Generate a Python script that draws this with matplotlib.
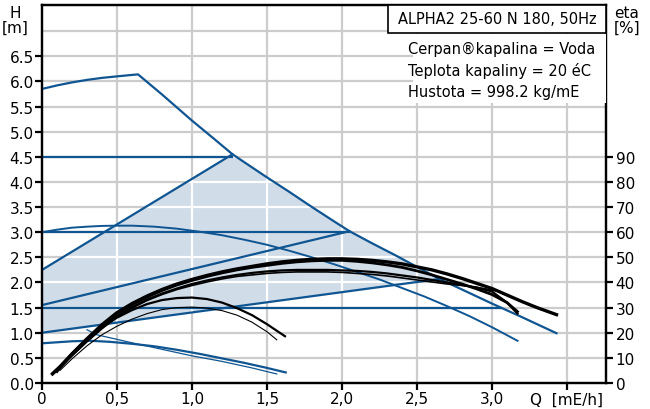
import numpy as np
import matplotlib
matplotlib.use("Agg")
import matplotlib.pyplot as plt
from matplotlib.patches import Polygon, Rectangle

BLUE = "#0f5592"
FILL = "#d0dce8"
GRID = "#cccccc"

# ------------------------------------------------
# DATA  (Q in m3/h, H in m, eta in %)
# ------------------------------------------------

# speed curve III (max)
q_max = [0.0, 0.1, 0.2, 0.3, 0.4, 0.5, 0.64, 0.8, 1.0, 1.15, 1.27, 1.4, 1.5, 1.65,
         1.8, 1.95, 2.05, 2.2, 2.35, 2.5, 2.65, 2.8, 3.0, 3.2, 3.43]
h_max = [5.85, 5.92, 5.98, 6.03, 6.07, 6.10, 6.14, 5.74, 5.22, 4.85, 4.55, 4.29, 4.09, 3.80,
         3.50, 3.21, 3.02, 2.78, 2.55, 2.31, 2.07, 1.86, 1.58, 1.31, 0.99]

# speed curve II
q_ii = [0.0, 0.1, 0.2, 0.3, 0.4, 0.5, 0.6, 0.75, 0.9, 1.05, 1.2, 1.35, 1.5, 1.65,
        1.8, 1.95, 2.1, 2.25, 2.4, 2.55, 2.7, 2.85, 3.0, 3.17]
h_ii = [3.00, 3.05, 3.09, 3.11, 3.125, 3.13, 3.13, 3.11, 3.07, 3.01, 2.94, 2.85, 2.75, 2.63,
        2.50, 2.36, 2.21, 2.06, 1.89, 1.72, 1.53, 1.33, 1.11, 0.84]

# speed curve I
q_i = [0.0, 0.1, 0.2, 0.32, 0.45, 0.6, 0.75, 0.9, 1.05, 1.2, 1.35, 1.5, 1.625]
h_i = [0.79, 0.81, 0.83, 0.84, 0.82, 0.78, 0.73, 0.66, 0.58, 0.49, 0.40, 0.30, 0.21]

# thin curve below curve I
q_i2 = [0.3, 0.365, 0.6, 0.8, 1.0, 1.2, 1.4, 1.565]
h_i2 = [1.06, 0.96, 0.80, 0.67, 0.54, 0.43, 0.30, 0.18]

# constant pressure lines (H, end Q)
cp_h = [4.5, 3.0, 1.5]
cp_q = [1.27, 2.05, 3.06]

# proportional pressure lines (H at Q=0, end Q, end H)
pp_h0 = [2.25, 1.55, 1.0]
pp_q1 = [1.27, 2.05, 2.65]
pp_h1 = [4.55, 3.02, 2.07]

# efficiency curves (eta %)
eta_q_a1 = [0.07, 0.12, 0.2, 0.3, 0.4, 0.5, 0.6, 0.7, 0.8, 0.9, 1.0, 1.1, 1.2, 1.3, 1.4, 1.5, 1.6,
            1.7, 1.8, 1.9, 2.0, 2.1, 2.2, 2.3, 2.4, 2.5, 2.6, 2.7, 2.8, 2.9, 3.0, 3.1, 3.2, 3.3, 3.43]
eta_a1 = [3.6, 6.4, 11.6, 17.6, 23.2, 28.0, 31.6, 34.6, 37.2, 39.4, 41.2, 42.8, 44.2, 45.4, 46.4, 47.4, 48.2,
          48.8, 49.2, 49.4, 49.4, 49.2, 48.8, 48.2, 47.4, 46.2, 45.0, 43.4, 41.6, 39.6, 37.6, 35.0, 32.4, 30.0, 27.2]

eta_q_a2 = [0.07, 0.12, 0.2, 0.3, 0.4, 0.5, 0.6, 0.7, 0.8, 0.9, 1.0, 1.1, 1.2, 1.3, 1.4, 1.5, 1.6,
            1.7, 1.8, 1.9, 2.0, 2.1, 2.2, 2.3, 2.4, 2.5, 2.6, 2.7, 2.8, 2.9, 3.0, 3.1, 3.17]
eta_a2 = [3.8, 6.6, 11.6, 17.4, 22.8, 27.6, 31.2, 34.2, 36.8, 39.0, 40.8, 42.4, 43.8, 45.0, 46.0, 46.8, 47.6,
          48.2, 48.6, 48.8, 48.8, 48.4, 47.8, 47.0, 46.0, 44.6, 43.0, 41.2, 39.4, 37.4, 35.2, 32.0, 28.4]

eta_q_b1 = [0.1, 0.2, 0.3, 0.4, 0.5, 0.6, 0.7, 0.8, 0.9, 1.0, 1.1, 1.2, 1.3, 1.4, 1.5, 1.6,
            1.7, 1.8, 1.9, 2.0, 2.1, 2.2, 2.3, 2.4, 2.5, 2.6, 2.7, 2.8, 2.9, 3.0, 3.1, 3.17]
eta_b1 = [5.0, 11.0, 16.8, 22.0, 26.6, 30.2, 33.2, 35.6, 37.6, 39.4, 40.8, 42.0, 43.0, 43.8, 44.4, 44.8,
          45.0, 45.0, 45.0, 44.8, 44.6, 44.2, 43.6, 42.8, 42.0, 41.0, 40.0, 39.0, 38.0, 36.4, 32.0, 27.6]

eta_q_b2 = [0.1, 0.2, 0.3, 0.4, 0.5, 0.6, 0.7, 0.8, 0.9, 1.0, 1.1, 1.2, 1.3, 1.4, 1.5, 1.6,
            1.7, 1.8, 1.9, 2.0, 2.1, 2.2, 2.3, 2.4, 2.5, 2.6, 2.7, 2.8, 2.9, 3.0, 3.05]
eta_b2 = [5.0, 10.8, 16.4, 21.6, 26.2, 29.8, 32.8, 35.2, 37.2, 38.8, 40.2, 41.4, 42.4, 43.0, 43.6, 44.0,
          44.2, 44.2, 44.2, 44.0, 43.6, 43.2, 42.6, 41.8, 41.0, 40.2, 39.4, 38.8, 38.0, 37.0, 36.4]

eta_q_c = [0.1, 0.2, 0.3, 0.4, 0.5, 0.6, 0.7, 0.8, 0.9, 1.0, 1.1, 1.2, 1.3, 1.4, 1.5, 1.62]
eta_c = [4.4, 11.6, 17.4, 22.2, 26.0, 29.0, 31.4, 33.0, 33.8, 34.0, 33.4, 32.0, 29.8, 27.0, 23.4, 18.6]

eta_q_d = [0.12, 0.2, 0.3, 0.4, 0.5, 0.6, 0.7, 0.8, 0.9, 1.0, 1.1, 1.2, 1.3, 1.4, 1.5, 1.565]
eta_d = [5.0, 9.6, 14.8, 19.2, 22.6, 25.4, 27.6, 29.2, 30.0, 30.2, 29.8, 28.8, 27.0, 24.2, 20.4, 17.2]

x_ticks = [0, 0.5, 1.0, 1.5, 2.0, 2.5, 3.0, 3.5]
x_labels = ["0", "0,5", "1,0", "1,5", "2,0", "2,5", "3,0", "Q  [mE/h]"]
y_ticks = np.arange(0, 6.51, 0.5)
eta_ticks = np.arange(0, 91, 10)

title = "ALPHA2 25-60 N 180, 50Hz"
info = ["Cerpan®kapalina = Voda", "Teplota kapaliny = 20 éC", "Hustota = 998.2 kg/mE"]

# ------------------------------------------------
# PLOT
# ------------------------------------------------

plt.rcParams["font.family"] = "DejaVu Sans"
plt.rcParams["font.size"] = 11

fig = plt.figure(figsize=(6.5, 4.1), dpi=100)
ax = fig.add_axes([0.0646, 0.0634, 0.8677, 0.922])

X_MAX = 3.76
H_MAX = 7.52
ax.set_xlim(0, X_MAX)
ax.set_ylim(0, H_MAX)

# grid
grid_x = np.arange(0.5, 3.51, 0.5)
grid_y = np.arange(0.5, 7.01, 0.5)
ax.vlines(grid_x, 0, H_MAX, color=GRID, lw=1.6, zorder=0.5)
ax.hlines(grid_y, 0, X_MAX, color=GRID, lw=1.6, zorder=0.5)

# shaded area
seg = [(q, h) for q, h in zip(q_max, h_max) if 1.27 <= q <= 2.65]
poly_pts = [(0, pp_h0[2]), (0, pp_h0[0])] + seg + [(0, pp_h0[2])]
poly = Polygon(poly_pts, closed=True, facecolor=FILL, edgecolor="none", zorder=1)
ax.add_patch(poly)
wv = ax.vlines(grid_x, 0, H_MAX, color="white", lw=1.6, zorder=1.1)
wh = ax.hlines(grid_y, 0, X_MAX, color="white", lw=1.6, zorder=1.1)
wv.set_clip_path(poly)
wh.set_clip_path(poly)

# blue pump curves
ax.plot(q_max, h_max, color=BLUE, lw=1.6, zorder=3)
ax.plot(q_ii, h_ii, color=BLUE, lw=1.4, zorder=3)
ax.plot(q_i, h_i, color=BLUE, lw=1.6, zorder=3)
ax.plot(q_i2, h_i2, color=BLUE, lw=0.9, zorder=3)

for h, q in zip(cp_h, cp_q):
    ax.plot([0, q], [h, h], color=BLUE, lw=1.6, zorder=3)

for h0, q1, h1 in zip(pp_h0, pp_q1, pp_h1):
    ax.plot([0, q1], [h0, h1], color=BLUE, lw=1.6, zorder=3)

# axes styling
for s in ax.spines.values():
    s.set_linewidth(1.6)
ax.set_xticks(x_ticks)
ax.set_xticklabels(x_labels)
ax.set_yticks(y_ticks)
ax.set_yticklabels([f"{v:.1f}" for v in y_ticks])
ax.tick_params(direction="out", length=5, width=1.6, pad=1)

# efficiency axis
ax2 = ax.twinx()
ax2.set_ylim(0, H_MAX * 20)
ax2.set_yticks(eta_ticks)
ax2.tick_params(direction="out", length=5, width=1.6, pad=2)
for s in ax2.spines.values():
    s.set_linewidth(1.6)

ax2.plot(eta_q_a1, eta_a1, color="black", lw=2.4, zorder=4)
ax2.plot(eta_q_a2, eta_a2, color="black", lw=2.0, zorder=4)
ax2.plot(eta_q_b1, eta_b1, color="black", lw=1.6, zorder=4)
ax2.plot(eta_q_b2, eta_b2, color="black", lw=1.2, zorder=4)
ax2.plot(eta_q_c, eta_c, color="black", lw=1.6, zorder=4)
ax2.plot(eta_q_d, eta_d, color="black", lw=0.8, zorder=4)

# labels
fig.text(0.023, 0.985, "H\n[m]", ha="center", va="top", fontsize=11, linespacing=0.95)
fig.text(0.964, 0.985, "eta\n[%]", ha="center", va="top", fontsize=11, linespacing=0.95)

# title box and info
ax2.add_patch(Rectangle((0.613, 0.926), 0.387, 0.074, transform=ax2.transAxes,
                        facecolor="white", edgecolor="black", lw=1.2, zorder=5))
ax2.text(0.8065, 0.963, title, transform=ax2.transAxes, ha="center", va="center",
         fontsize=10.5, zorder=6)
ax2.add_patch(Rectangle((0.658, 0.74), 0.342, 0.184, transform=ax2.transAxes,
                        facecolor="white", edgecolor="none", zorder=5))
for i, line in enumerate(info):
    ax2.text(0.649, 0.886 - i * 0.058, line, transform=ax2.transAxes, ha="left",
             va="center", fontsize=10.5, zorder=6)

fig.savefig("out.png", dpi=100)
